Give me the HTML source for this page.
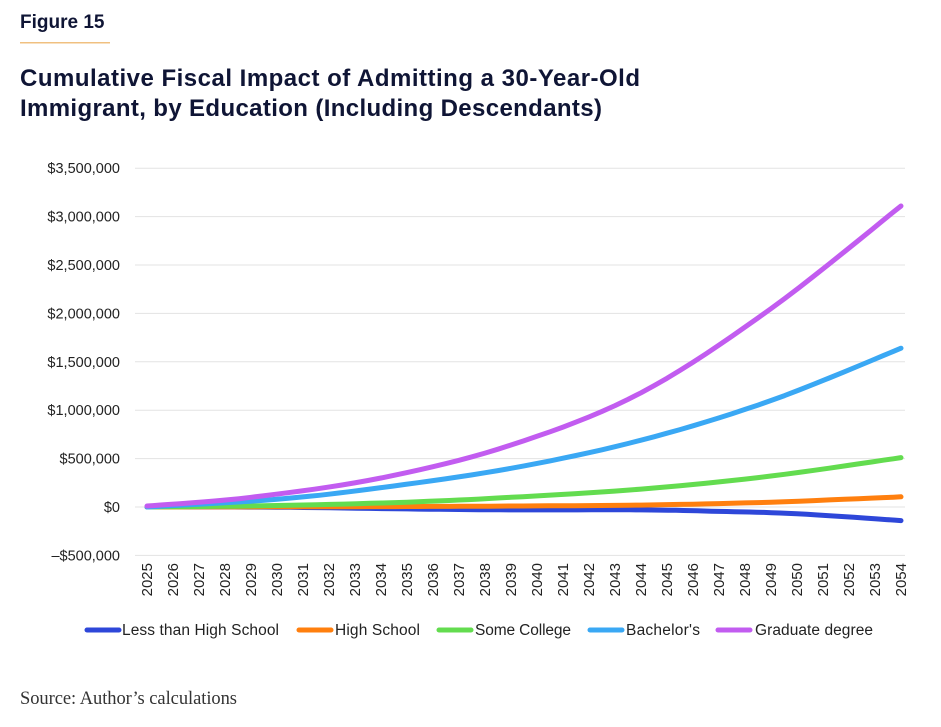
<!DOCTYPE html>
<html><head><meta charset="utf-8"><style>
body{margin:0;background:#fff;width:941px;height:722px;overflow:hidden;font-family:"Liberation Sans",sans-serif}
</style></head><body>
<svg width="941" height="722" xmlns="http://www.w3.org/2000/svg" id="s">
<text x="20" y="28" font-family="Liberation Sans, sans-serif" font-weight="bold" font-size="19" fill="#0f1535">Figure 15</text>
<rect x="20" y="42" width="90" height="1.5" fill="#f0c080"/>
<text x="20" y="86" font-family="Liberation Sans, sans-serif" font-weight="bold" font-size="24" fill="#0f1535" textLength="620">Cumulative Fiscal Impact of Admitting a 30-Year-Old</text>
<text x="20" y="116" font-family="Liberation Sans, sans-serif" font-weight="bold" font-size="24" fill="#0f1535" textLength="582">Immigrant, by Education (Including Descendants)</text>
<g id="grid" stroke="#e3e3e3" stroke-width="1"></g>
<g id="ylab" font-family="Liberation Sans, sans-serif" font-size="14.5" fill="#222" text-anchor="end"></g>
<g id="xlab" font-family="Liberation Sans, sans-serif" font-size="15" fill="#222" text-anchor="end"></g>
<g id="lines" fill="none" stroke-width="5" stroke-linecap="round" stroke-linejoin="round"></g>
<g font-family="Liberation Sans, sans-serif" font-size="15.5" fill="#222">
<line x1="87" y1="630" x2="119" y2="630" stroke="#2e47d9" stroke-width="5" stroke-linecap="round"/>
<text x="122" y="635" textLength="157">Less than High School</text>
<line x1="299" y1="630" x2="331" y2="630" stroke="#ff7f0e" stroke-width="5" stroke-linecap="round"/>
<text x="335" y="635" textLength="85">High School</text>
<line x1="439" y1="630" x2="471" y2="630" stroke="#63dc4f" stroke-width="5" stroke-linecap="round"/>
<text x="475" y="635" textLength="96">Some College</text>
<line x1="590" y1="630" x2="622" y2="630" stroke="#3aa8f4" stroke-width="5" stroke-linecap="round"/>
<text x="626" y="635" textLength="74">Bachelor's</text>
<line x1="718" y1="630" x2="750" y2="630" stroke="#c25cf0" stroke-width="5" stroke-linecap="round"/>
<text x="755" y="635" textLength="118">Graduate degree</text>
</g>
<text x="20" y="704" font-family="Liberation Serif, serif" font-size="18.5" fill="#333" textLength="217">Source: Author’s calculations</text>
</svg>
<script>
var NS="http://www.w3.org/2000/svg";
function el(t,a,p,txt){var e=document.createElementNS(NS,t);for(var k in a)e.setAttribute(k,a[k]);if(txt)e.textContent=txt;document.getElementById(p).appendChild(e);}
function Y(v){return 507-v/500*48.4;}
var labs=["–$500,000","$0","$500,000","$1,000,000","$1,500,000","$2,000,000","$2,500,000","$3,000,000","$3,500,000"];
for(var i=0;i<9;i++){var v=-500+i*500,y=Y(v);el("line",{x1:135,x2:905,y1:y,y2:y},"grid");el("text",{x:120,y:y+5},"ylab",labs[i]);}
function X(i){return 147+i*26;}
for(var i=0;i<30;i++){el("text",{transform:"translate("+(X(i)+5)+",563) rotate(-90)"},"xlab",String(2025+i));}
var series=[
["#2e47d9",[[0,0],[5,-2],[10,-20],[14,-30],[19,-30],[22,-45],[25,-70],[29,-140]]],
["#ff7f0e",[[0,0],[5,2],[10,5],[14,10],[19,20],[24,50],[29,105]]],
["#63dc4f",[[0,0],[5,15],[10,50],[14,100],[19,185],[24,320],[29,510]]],
["#3aa8f4",[[0,0],[5,80],[9,200],[14,400],[19,690],[24,1100],[29,1640]]],
["#c25cf0",[[0,10],[4,100],[9,300],[14,640],[19,1180],[24,2050],[29,3110]]]];
series.forEach(function(s){
 var p=s[1],pts=[];
 for(var i=0;i<p.length-1;i++){var a=p[Math.max(i-1,0)],b=p[i],c=p[i+1],d=p[Math.min(i+2,p.length-1)];
  for(var t=0;t<1;t+=0.1){var t2=t*t,t3=t2*t;
   var f=function(k){return 0.5*((2*b[k])+(-a[k]+c[k])*t+(2*a[k]-5*b[k]+4*c[k]-d[k])*t2+(-a[k]+3*b[k]-3*c[k]+d[k])*t3);};
   pts.push(X(f(0)).toFixed(1)+","+Y(f(1)).toFixed(1));}}
 var l=p[p.length-1];pts.push(X(l[0])+","+Y(l[1]).toFixed(1));
 el("polyline",{points:pts.join(" "),stroke:s[0]},"lines");
});
</script>
</body></html>
